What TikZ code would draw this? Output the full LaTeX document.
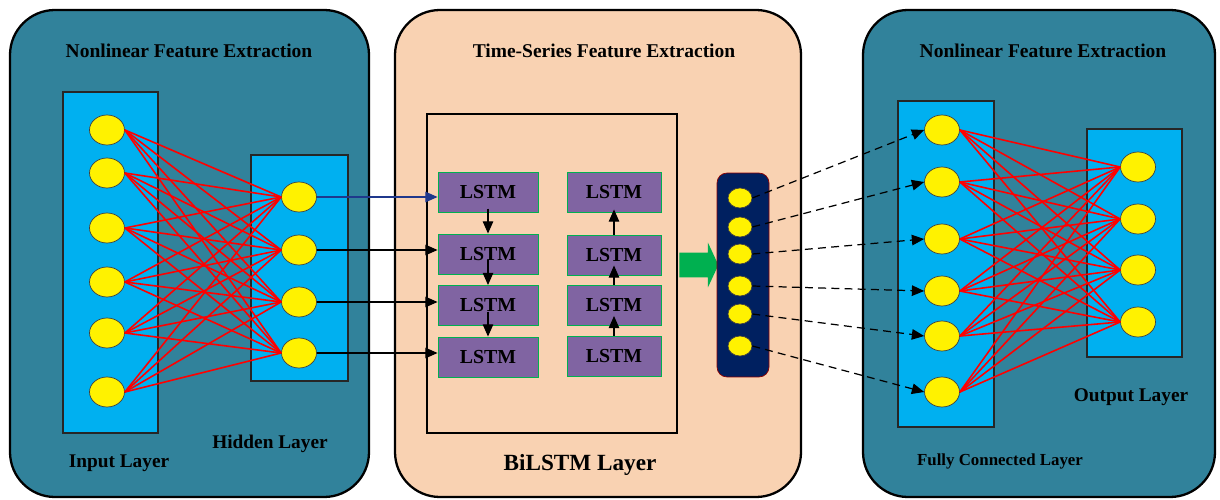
\documentclass[tikz,border=0pt]{standalone}
\usepackage{fontspec}
\setmainfont{Liberation Serif}
\usetikzlibrary{
    shapes.geometric,
    shapes.arrows,
    arrows.meta,
    positioning,
    calc
}
\definecolor{panelteal}{RGB}{49, 130, 155}
\definecolor{panelpeach}{RGB}{249, 210, 178}
\definecolor{layercyan}{RGB}{0, 176, 240}
\definecolor{lstmpurple}{RGB}{128, 100, 162}
\definecolor{lstmgreen}{RGB}{0, 176, 80}
\definecolor{bandnavy}{RGB}{0, 32, 96}
\definecolor{linkblue}{RGB}{31, 56, 140}

\begin{document}
\begin{tikzpicture}[x=0.02cm, y=-0.02cm,
        panel/.style={draw=black, line width=1.3pt, rounded corners=0.9cm},
        layerbox/.style={draw=black!85, fill=layercyan, line width=0.6pt},
        neuron/.style={ellipse, draw=black!75, fill=yellow, minimum width=0.7cm, minimum height=0.6cm, inner sep=0pt},
        smallneuron/.style={ellipse, draw=black!75, fill=yellow, minimum width=0.48cm, minimum height=0.4cm, inner sep=0pt},
        lstmbox/.style={draw=lstmgreen, fill=lstmpurple, line width=0.5pt, minimum width=2cm, minimum height=0.8cm, inner sep=0pt, font=\bfseries\fontsize{11.3}{13}\selectfont},
        title/.style={font=\bfseries\fontsize{11.1}{13}\selectfont},
        label/.style={font=\bfseries\fontsize{11}{13}\selectfont},
        arrow/.style={-{Triangle[length=7pt, width=6pt]}, line width=0.7pt},
        dasharrow/.style={arrow, dash pattern=on 4.5pt off 3pt},
        link/.style={red, line width=0.9pt}
    ]
        \useasboundingbox (0,0) rectangle (1220,500);

        % Panels
        \draw[panel, fill=panelteal] (10,10) rectangle (369,497);
        \draw[panel, fill=panelpeach] (395,10) rectangle (801,497);
        \draw[panel, fill=panelteal] (863,10) rectangle (1215,497);

        \node[title] (ltitle) at (189,51) {Nonlinear Feature Extraction};
        \node[title] (ctitle) at (604,51) {Time-Series Feature Extraction};
        \node[title] (rtitle) at (1043,51) {Nonlinear Feature Extraction};

        % Left network
        \draw[layerbox] (63,92) rectangle (158,433);
        \draw[layerbox] (251,155) rectangle (348,381);
        \foreach \y [count=\i] in {130,173,228,282,333,392}
            \node[neuron] (in\i) at (107,\y) {};
        \foreach \y [count=\i] in {197,250,302,353}
            \node[neuron] (hid\i) at (299,\y) {};
        \foreach \i in {1,...,6}
            \foreach \j in {1,...,4}
                \draw[link] (in\i.east) -- (hid\j.west);

        \node[label] (inlabel) at (119,463) {Input Layer};
        \node[label] (hidlabel) at (270,444) {Hidden Layer};

        % BiLSTM
        \draw[line width=1pt] (427,114) rectangle (677,433);
        \node[lstmbox] (fw1) at (488,192) {LSTM};
        \node[lstmbox] (fw2) at (488,254) {LSTM};
        \node[lstmbox] (fw3) at (488,305.5) {LSTM};
        \node[lstmbox] (fw4) at (488,357) {LSTM};
        \node[lstmbox, minimum width=1.88cm] (bw1) at (614,192) {LSTM};
        \node[lstmbox, minimum width=1.88cm] (bw2) at (614,255) {LSTM};
        \node[lstmbox, minimum width=1.88cm] (bw3) at (614,305.5) {LSTM};
        \node[lstmbox, minimum width=1.88cm] (bw4) at (614,356) {LSTM};

        \draw[arrow] ([yshift=0.5cm]fw2.north) -- (fw2.north);
        \draw[arrow] ([yshift=0.5cm]fw3.north) -- (fw3.north);
        \draw[arrow] ([yshift=0.5cm]fw4.north) -- (fw4.north);
        \draw[arrow] (bw2.north) -- ([yshift=0.06cm]bw1.south);
        \draw[arrow] (bw3.north) -- ([yshift=0.2cm]bw2.south);
        \draw[arrow] (bw4.north) -- ([yshift=0.2cm]bw3.south);

        \draw[arrow, linkblue] (hid1.east) -- (hid1.east -| fw1.west);
        \draw[arrow] (hid2.east) -- (hid2.east -| fw2.west);
        \draw[arrow] (hid3.east) -- (hid3.east -| fw3.west);
        \draw[arrow] (hid4.east) -- (hid4.east -| fw4.west);

        \node[label, font=\bfseries\fontsize{13.2}{16}\selectfont] (bilabel) at (580,465) {BiLSTM Layer};

        % Output of BiLSTM
        \node[single arrow, fill=lstmgreen, inner xsep=0pt, inner ysep=0.24cm, minimum height=0.78cm,
              single arrow head extend=0.2cm, single arrow tip angle=130] (flow) at (696,265) {};
        \node[draw=red!55!black, fill=bandnavy, rounded corners=0.2cm, minimum width=1.04cm, minimum height=4.08cm] (band) at (743,275) {};
        \foreach \y [count=\i] in {198,227,254,286,314,346}
            \node[smallneuron] (bn\i) at (740,\y) {};

        % Right network
        \draw[layerbox] (898,101) rectangle (994,427);
        \draw[layerbox] (1087,129) rectangle (1182,357);
        \foreach \y [count=\i] in {130,182,239,291,336,392}
            \node[neuron] (fc\i) at (942,\y) {};
        \foreach \y [count=\i] in {167,219,270,322}
            \node[neuron] (out\i) at (1138,\y) {};
        \foreach \i in {1,...,6}
            \foreach \j in {1,...,4}
                \draw[link] (fc\i.east) -- (out\j.west);
        \foreach \i in {1,...,6}
            \draw[dasharrow] (bn\i.east) -- (fc\i.west);

        \node[label] (outlabel) at (1131,397) {Output Layer};
        \node[label, font=\bfseries\fontsize{9.6}{11}\selectfont] (fclabel) at (1000,461) {Fully Connected Layer};
    \end{tikzpicture}
\end{document}
